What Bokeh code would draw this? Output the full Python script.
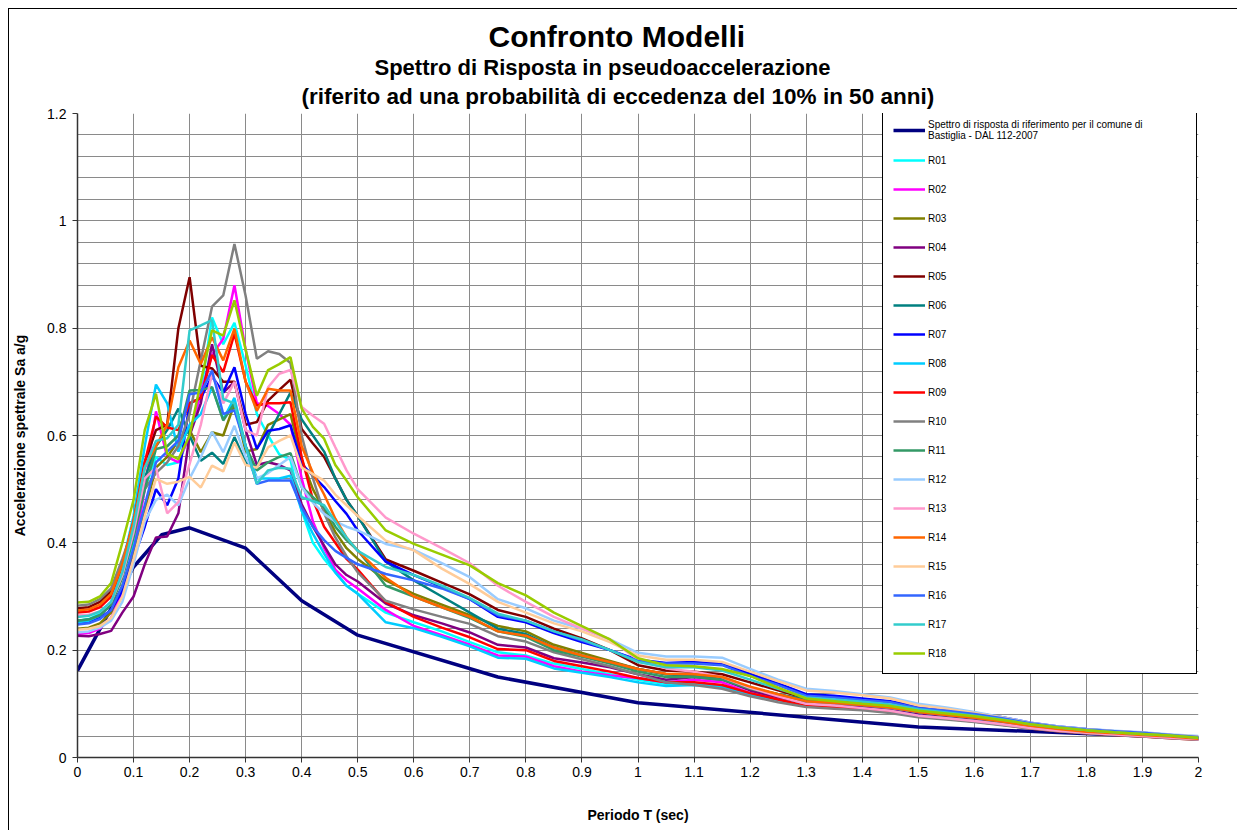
from bokeh.plotting import figure
from bokeh.models import (Legend, LegendItem, FixedTicker, NumeralTickFormatter,
                          Title, Range1d)
from bokeh.embed import file_html
from bokeh.resources import INLINE

# ---------------- data ----------------
periods = [0.00, 0.02, 0.04, 0.06, 0.08, 0.10, 0.12, 0.14, 0.16, 0.18,
           0.20, 0.22, 0.24, 0.26, 0.28, 0.30, 0.32, 0.34, 0.36, 0.38,
           0.40, 0.42, 0.44, 0.46, 0.48, 0.50, 0.55, 0.60, 0.65, 0.70,
           0.75, 0.80, 0.85, 0.90, 0.95, 1.00, 1.05, 1.10, 1.15, 1.20,
           1.25, 1.30, 1.35, 1.40, 1.45, 1.50, 1.55, 1.60, 1.65, 1.70,
           1.75, 1.80, 1.85, 1.90, 1.95, 2.00]

ref_periods = [0.0, 0.1, 0.15, 0.2, 0.3, 0.4, 0.5, 0.75, 1.0, 1.5, 2.0]
ref_sa = [0.162, 0.355, 0.415, 0.428, 0.390, 0.292, 0.228, 0.150, 0.102, 0.057, 0.036]
ref_label = "Spettro di risposta di riferimento per il comune di\nBastiglia - DAL 112-2007"

R01 = [0.255, 0.258, 0.268, 0.290, 0.340, 0.400, 0.500, 0.560, 0.545, 0.550,
       0.600, 0.680, 0.820, 0.770, 0.810, 0.730, 0.640, 0.600, 0.565, 0.555,
       0.460, 0.400, 0.370, 0.345, 0.320, 0.305, 0.270, 0.252, 0.235, 0.215,
       0.196, 0.190, 0.175, 0.165, 0.155, 0.145, 0.137, 0.137, 0.134, 0.120,
       0.110, 0.100, 0.097, 0.093, 0.088, 0.080, 0.075, 0.070, 0.064, 0.057,
       0.052, 0.048, 0.045, 0.042, 0.039, 0.036]
R02 = [0.230, 0.232, 0.240, 0.260, 0.310, 0.380, 0.500, 0.645, 0.560, 0.550,
       0.600, 0.680, 0.750, 0.780, 0.880, 0.760, 0.660, 0.655, 0.640, 0.620,
       0.520, 0.440, 0.390, 0.350, 0.330, 0.315, 0.275, 0.245, 0.228, 0.210,
       0.190, 0.188, 0.170, 0.160, 0.153, 0.148, 0.140, 0.145, 0.140, 0.120,
       0.108, 0.098, 0.095, 0.091, 0.086, 0.078, 0.073, 0.068, 0.062, 0.055,
       0.050, 0.046, 0.043, 0.040, 0.037, 0.034]
R03 = [0.240, 0.242, 0.250, 0.270, 0.320, 0.380, 0.460, 0.540, 0.560, 0.590,
       0.610, 0.569, 0.606, 0.600, 0.659, 0.570, 0.575, 0.620, 0.630, 0.640,
       0.555, 0.500, 0.460, 0.420, 0.390, 0.370, 0.330, 0.305, 0.285, 0.265,
       0.245, 0.235, 0.210, 0.195, 0.180, 0.165, 0.155, 0.155, 0.150, 0.130,
       0.118, 0.105, 0.102, 0.098, 0.094, 0.085, 0.080, 0.075, 0.068, 0.060,
       0.054, 0.049, 0.046, 0.043, 0.040, 0.036]
R04 = [0.227, 0.226, 0.230, 0.236, 0.270, 0.300, 0.360, 0.410, 0.412, 0.455,
       0.600, 0.660, 0.770, 0.680, 0.700, 0.610, 0.545, 0.550, 0.545, 0.535,
       0.472, 0.430, 0.395, 0.360, 0.340, 0.328, 0.287, 0.265, 0.250, 0.233,
       0.210, 0.205, 0.185, 0.177, 0.168, 0.155, 0.145, 0.150, 0.145, 0.125,
       0.112, 0.100, 0.097, 0.093, 0.088, 0.080, 0.075, 0.070, 0.064, 0.056,
       0.051, 0.047, 0.044, 0.041, 0.038, 0.035]
R05 = [0.278, 0.280, 0.290, 0.310, 0.360, 0.440, 0.550, 0.610, 0.620, 0.800,
       0.895, 0.730, 0.725, 0.700, 0.700, 0.620, 0.625, 0.665, 0.685, 0.704,
       0.612, 0.585, 0.560, 0.520, 0.480, 0.450, 0.369, 0.348, 0.326, 0.304,
       0.275, 0.262, 0.240, 0.222, 0.200, 0.172, 0.162, 0.160, 0.155, 0.140,
       0.125, 0.110, 0.106, 0.102, 0.097, 0.088, 0.082, 0.077, 0.070, 0.061,
       0.055, 0.050, 0.047, 0.044, 0.041, 0.037]
R06 = [0.255, 0.257, 0.265, 0.285, 0.340, 0.420, 0.520, 0.580, 0.610, 0.650,
       0.600, 0.553, 0.568, 0.547, 0.597, 0.550, 0.540, 0.600, 0.640, 0.680,
       0.630, 0.600, 0.570, 0.520, 0.480, 0.450, 0.365, 0.330, 0.300, 0.270,
       0.240, 0.230, 0.205, 0.190, 0.178, 0.165, 0.155, 0.152, 0.148, 0.130,
       0.118, 0.108, 0.104, 0.100, 0.096, 0.087, 0.081, 0.076, 0.069, 0.060,
       0.054, 0.049, 0.046, 0.043, 0.040, 0.036]
R07 = [0.250, 0.252, 0.260, 0.275, 0.310, 0.370, 0.430, 0.500, 0.470, 0.520,
       0.660, 0.670, 0.710, 0.680, 0.727, 0.640, 0.575, 0.609, 0.612, 0.619,
       0.547, 0.525, 0.504, 0.478, 0.454, 0.423, 0.365, 0.340, 0.318, 0.295,
       0.262, 0.252, 0.232, 0.215, 0.200, 0.182, 0.176, 0.178, 0.175, 0.156,
       0.138, 0.118, 0.115, 0.110, 0.105, 0.095, 0.089, 0.083, 0.075, 0.065,
       0.058, 0.053, 0.049, 0.046, 0.042, 0.038]
R08 = [0.252, 0.255, 0.265, 0.290, 0.360, 0.450, 0.580, 0.695, 0.660, 0.570,
       0.620, 0.640, 0.690, 0.630, 0.670, 0.580, 0.520, 0.520, 0.520, 0.525,
       0.460, 0.417, 0.380, 0.345, 0.320, 0.305, 0.252, 0.241, 0.225, 0.207,
       0.186, 0.184, 0.166, 0.158, 0.150, 0.140, 0.133, 0.135, 0.132, 0.118,
       0.107, 0.098, 0.095, 0.091, 0.086, 0.078, 0.073, 0.068, 0.062, 0.055,
       0.050, 0.046, 0.043, 0.040, 0.037, 0.034]
R09 = [0.270, 0.272, 0.280, 0.300, 0.360, 0.440, 0.550, 0.635, 0.615, 0.610,
       0.660, 0.670, 0.750, 0.718, 0.790, 0.700, 0.656, 0.660, 0.660, 0.662,
       0.560, 0.480, 0.430, 0.400, 0.370, 0.350, 0.290, 0.262, 0.242, 0.224,
       0.202, 0.200, 0.180, 0.170, 0.160, 0.148, 0.140, 0.140, 0.135, 0.120,
       0.108, 0.096, 0.093, 0.090, 0.085, 0.077, 0.072, 0.067, 0.061, 0.054,
       0.049, 0.045, 0.042, 0.039, 0.036, 0.033]
R10 = [0.283, 0.285, 0.295, 0.315, 0.370, 0.430, 0.500, 0.530, 0.550, 0.580,
       0.640, 0.740, 0.840, 0.861, 0.957, 0.860, 0.743, 0.757, 0.752, 0.735,
       0.600, 0.520, 0.455, 0.410, 0.375, 0.345, 0.292, 0.276, 0.262, 0.249,
       0.226, 0.216, 0.196, 0.183, 0.170, 0.155, 0.140, 0.135, 0.128, 0.114,
       0.103, 0.094, 0.091, 0.088, 0.083, 0.075, 0.071, 0.066, 0.060, 0.054,
       0.049, 0.045, 0.042, 0.039, 0.036, 0.033]
R11 = [0.255, 0.257, 0.265, 0.285, 0.335, 0.410, 0.500, 0.575, 0.580, 0.600,
       0.684, 0.685, 0.690, 0.628, 0.660, 0.580, 0.535, 0.550, 0.560, 0.567,
       0.504, 0.485, 0.466, 0.430, 0.405, 0.386, 0.320, 0.300, 0.280, 0.260,
       0.235, 0.225, 0.200, 0.188, 0.175, 0.160, 0.150, 0.150, 0.145, 0.128,
       0.116, 0.105, 0.102, 0.098, 0.093, 0.085, 0.079, 0.074, 0.067, 0.059,
       0.053, 0.048, 0.045, 0.042, 0.039, 0.035]
R12 = [0.233, 0.235, 0.242, 0.255, 0.290, 0.360, 0.440, 0.480, 0.490, 0.470,
       0.520, 0.560, 0.607, 0.569, 0.618, 0.560, 0.520, 0.530, 0.545, 0.560,
       0.504, 0.475, 0.454, 0.440, 0.430, 0.423, 0.398, 0.387, 0.362, 0.336,
       0.295, 0.278, 0.255, 0.240, 0.220, 0.195, 0.188, 0.188, 0.186, 0.165,
       0.145, 0.128, 0.124, 0.118, 0.112, 0.100, 0.093, 0.085, 0.075, 0.065,
       0.058, 0.053, 0.050, 0.047, 0.043, 0.040]
R13 = [0.265, 0.266, 0.272, 0.290, 0.340, 0.420, 0.520, 0.540, 0.455, 0.476,
       0.547, 0.620, 0.715, 0.660, 0.700, 0.610, 0.600, 0.690, 0.715, 0.722,
       0.653, 0.637, 0.622, 0.578, 0.535, 0.500, 0.447, 0.417, 0.390, 0.362,
       0.320, 0.290, 0.262, 0.240, 0.220, 0.182, 0.166, 0.160, 0.150, 0.130,
       0.114, 0.100, 0.097, 0.092, 0.087, 0.078, 0.073, 0.068, 0.062, 0.055,
       0.050, 0.046, 0.043, 0.040, 0.037, 0.034]
R14 = [0.274, 0.276, 0.285, 0.305, 0.360, 0.440, 0.540, 0.580, 0.620, 0.727,
       0.777, 0.733, 0.783, 0.740, 0.799, 0.700, 0.646, 0.687, 0.684, 0.684,
       0.580, 0.530, 0.490, 0.445, 0.410, 0.385, 0.335, 0.300, 0.280, 0.262,
       0.235, 0.227, 0.205, 0.190, 0.178, 0.165, 0.156, 0.155, 0.150, 0.132,
       0.118, 0.105, 0.102, 0.098, 0.093, 0.085, 0.079, 0.074, 0.067, 0.059,
       0.053, 0.048, 0.045, 0.042, 0.039, 0.035]
R15 = [0.238, 0.240, 0.245, 0.260, 0.300, 0.370, 0.450, 0.519, 0.510, 0.514,
       0.523, 0.503, 0.544, 0.533, 0.587, 0.545, 0.540, 0.578, 0.590, 0.600,
       0.540, 0.528, 0.516, 0.490, 0.470, 0.450, 0.404, 0.386, 0.352, 0.323,
       0.290, 0.270, 0.250, 0.235, 0.215, 0.190, 0.182, 0.182, 0.178, 0.160,
       0.142, 0.125, 0.121, 0.116, 0.110, 0.097, 0.091, 0.083, 0.074, 0.064,
       0.057, 0.052, 0.049, 0.046, 0.042, 0.039]
R16 = [0.248, 0.250, 0.258, 0.275, 0.320, 0.390, 0.470, 0.550, 0.570, 0.590,
       0.677, 0.680, 0.721, 0.640, 0.647, 0.580, 0.510, 0.516, 0.516, 0.516,
       0.466, 0.430, 0.405, 0.385, 0.372, 0.360, 0.342, 0.330, 0.315, 0.295,
       0.265, 0.255, 0.235, 0.218, 0.200, 0.180, 0.175, 0.175, 0.172, 0.152,
       0.135, 0.115, 0.112, 0.107, 0.103, 0.092, 0.087, 0.081, 0.073, 0.064,
       0.057, 0.052, 0.049, 0.046, 0.042, 0.038]
R17 = [0.262, 0.264, 0.272, 0.290, 0.345, 0.430, 0.540, 0.590, 0.595, 0.620,
       0.796, 0.805, 0.815, 0.668, 0.660, 0.580, 0.510, 0.535, 0.540, 0.538,
       0.485, 0.478, 0.470, 0.440, 0.410, 0.385, 0.355, 0.340, 0.320, 0.297,
       0.268, 0.255, 0.235, 0.220, 0.200, 0.178, 0.168, 0.168, 0.162, 0.145,
       0.128, 0.112, 0.108, 0.104, 0.099, 0.090, 0.084, 0.078, 0.071, 0.062,
       0.056, 0.051, 0.047, 0.044, 0.041, 0.037]
R18 = [0.289, 0.290, 0.300, 0.325, 0.400, 0.480, 0.610, 0.678, 0.566, 0.556,
       0.600, 0.700, 0.796, 0.786, 0.852, 0.760, 0.674, 0.722, 0.733, 0.746,
       0.650, 0.616, 0.594, 0.545, 0.516, 0.485, 0.423, 0.398, 0.378, 0.358,
       0.325, 0.302, 0.270, 0.245, 0.220, 0.185, 0.172, 0.170, 0.165, 0.152,
       0.130, 0.110, 0.105, 0.100, 0.096, 0.087, 0.082, 0.077, 0.070, 0.062,
       0.056, 0.051, 0.047, 0.044, 0.041, 0.037]

series_names = ["R01", "R02", "R03", "R04", "R05", "R06", "R07", "R08", "R09",
                "R10", "R11", "R12", "R13", "R14", "R15", "R16", "R17", "R18"]
series_values = [R01, R02, R03, R04, R05, R06, R07, R08, R09,
                 R10, R11, R12, R13, R14, R15, R16, R17, R18]
series_colors = ["#00FFFF", "#FF00FF", "#808000", "#800080", "#800000", "#008080",
                 "#0000FF", "#00CCFF", "#FF0000", "#808080", "#339966", "#99CCFF",
                 "#FF99CC", "#FF6600", "#FFCC99", "#3366FF", "#33CCCC", "#99CC00"]
ref_color = "#000080"

x_ticks = [0.0, 0.1, 0.2, 0.3, 0.4, 0.5, 0.6, 0.7, 0.8, 0.9, 1.0,
           1.1, 1.2, 1.3, 1.4, 1.5, 1.6, 1.7, 1.8, 1.9, 2.0]
y_ticks = [0.0, 0.2, 0.4, 0.6, 0.8, 1.0, 1.2]
y_minor = [0.04, 0.08, 0.12, 0.16, 0.24, 0.28, 0.32, 0.36, 0.44, 0.48, 0.52, 0.56,
           0.64, 0.68, 0.72, 0.76, 0.84, 0.88, 0.92, 0.96, 1.04, 1.08, 1.12, 1.16]

FONT = "Liberation Sans"

# ---------------- figure ----------------
p = figure(width=1229, height=822, output_backend="svg", toolbar_location=None,
           x_range=Range1d(0, 2), y_range=Range1d(0, 1.2),
           min_border_left=68, min_border_right=40, min_border_top=104,
           min_border_bottom=74)
p.styles = {"margin-left": "8px", "margin-top": "8px",
            "border-left": "1px solid black", "border-top": "1px solid black"}
p.outline_line_color = None
p.background_fill_color = "white"
p.border_fill_color = "white"

# titles (added inner first), left-aligned with offsets so they centre on the chart
p.add_layout(Title(text="(riferito ad una probabilità di eccedenza del 10% in 50 anni)",
                   align="left", text_font=FONT, text_font_size="22.5px",
                   text_font_style="bold", text_color="black", standoff=10,
                   offset=224), "above")
p.add_layout(Title(text="Spettro di Risposta in pseudoaccelerazione",
                   align="left", text_font=FONT, text_font_size="22px",
                   text_font_style="bold", text_color="black", standoff=-6,
                   offset=297), "above")
p.add_layout(Title(text="Confronto Modelli",
                   align="left", text_font=FONT, text_font_size="30px",
                   text_font_style="bold", text_color="black", standoff=5,
                   offset=411), "above")

# axes
p.xaxis.ticker = FixedTicker(ticks=x_ticks)
p.yaxis.ticker = FixedTicker(ticks=y_ticks, minor_ticks=y_minor)
p.xaxis.formatter = NumeralTickFormatter(format="0.[0]")
p.yaxis.formatter = NumeralTickFormatter(format="0.[0]")
for ax in (p.xaxis[0], p.yaxis[0]):
    ax.axis_line_color = "#333333"
    ax.axis_line_width = 1.5
    ax.major_tick_line_color = "#333333"
    ax.major_tick_in = 0
    ax.major_tick_out = 5
    ax.minor_tick_line_color = None
    ax.major_label_text_font = FONT
    ax.major_label_text_font_size = "14px"
    ax.major_label_text_color = "black"
    ax.axis_label_text_font = FONT
    ax.axis_label_text_font_style = "bold"
    ax.axis_label_text_font_size = "14px"
    ax.axis_label_text_color = "black"
p.xaxis.axis_label = "Periodo T (sec)"
p.yaxis.axis_label = "Accelerazione spettrale Sa a/g"
p.xaxis.major_label_standoff = 4
p.yaxis.major_label_standoff = 6
p.xaxis.axis_label_standoff = 27
p.yaxis.axis_label_standoff = 16

p.xgrid.grid_line_color = "#8a8a8a"
p.xgrid.grid_line_width = 1
p.ygrid.grid_line_color = "#8a8a8a"
p.ygrid.grid_line_width = 1
p.ygrid.minor_grid_line_color = "#8a8a8a"
p.ygrid.minor_grid_line_width = 1

# lines
items = []
r = p.line(ref_periods, ref_sa, line_color=ref_color, line_width=3.5)
items.append(LegendItem(label=ref_label, renderers=[r]))
for name, vals, col in zip(series_names, series_values, series_colors):
    rr = p.line(periods, vals, line_color=col, line_width=2.5)
    items.append(LegendItem(label=name, renderers=[rr]))

legend = Legend(items=items, location=(805, 83), orientation="vertical",
                label_text_font=FONT, label_text_font_size="10px",
                label_text_color="black", glyph_width=32, glyph_height=20,
                label_height=20, label_width=258, label_standoff=3, spacing=9,
                padding=10, border_line_color="black", border_line_width=1.3,
                border_line_alpha=1.0,
                background_fill_color="white", background_fill_alpha=1.0,
                margin=0)
p.add_layout(legend, "center")

open("out.html", "w").write(file_html(p, INLINE))
